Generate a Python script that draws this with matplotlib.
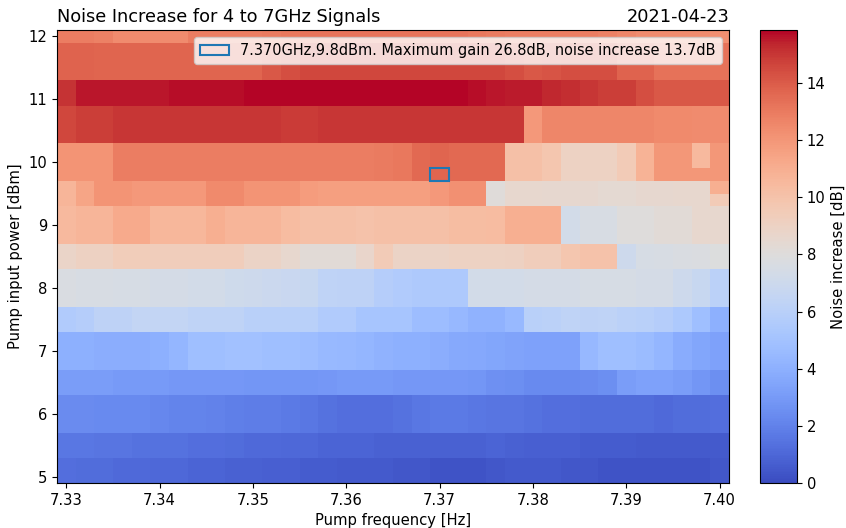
import numpy as np
import matplotlib
matplotlib.use("Agg")
import matplotlib.pyplot as plt
from matplotlib.patches import Rectangle

# ---------------- data ----------------
freq_ghz = [7.330, 7.332, 7.334, 7.336, 7.338, 7.340, 7.342, 7.344, 7.346, 7.348,
            7.350, 7.352, 7.354, 7.356, 7.358, 7.360, 7.362, 7.364, 7.366, 7.368,
            7.370, 7.372, 7.374, 7.376, 7.378, 7.380, 7.382, 7.384, 7.386, 7.388,
            7.390, 7.392, 7.394, 7.396, 7.398, 7.400]

power_dbm = [5.0, 5.2, 5.4, 5.6, 5.8, 6.0, 6.2, 6.4, 6.6, 6.8, 7.0, 7.2,
             7.4, 7.6, 7.8, 8.0, 8.2, 8.4, 8.6, 8.8, 9.0, 9.2, 9.4, 9.6,
             9.8, 10.0, 10.2, 10.4, 10.6, 10.8, 11.0, 11.2, 11.4, 11.6, 11.8, 12.0]

# which measured band each power row belongs to
row_band = [0, 0, 1, 1, 2, 2, 2, 3, 3, 4, 4, 4, 5, 5, 6, 6, 6, 7, 7,
            8, 8, 8, 9, 9, 10, 10, 10, 11, 11, 11, 12, 12, 13, 13, 13, 14]

band_values = [
    # 0: 5.0-5.2
    [1.3, 1.2, 1.2, 1.1, 1.1, 1.0, 1.0, 0.9, 0.9, 0.8, 0.8, 0.7, 0.7, 0.6, 0.6, 0.5, 0.5, 0.5,
     0.4, 0.4, 0.3, 0.3, 0.3, 0.4, 0.5, 0.5, 0.5, 0.4, 0.4, 0.3, 0.3, 0.3, 0.3, 0.3, 0.3, 0.4],
    # 1: 5.4-5.6
    [1.6, 1.6, 1.5, 1.5, 1.4, 1.4, 1.4, 1.3, 1.3, 1.2, 1.1, 1.1, 1.0, 1.0, 0.9, 0.9, 0.9, 0.8,
     0.8, 0.8, 0.8, 0.8, 0.8, 0.9, 0.8, 0.7, 0.7, 0.7, 0.6, 0.6, 0.6, 0.5, 0.5, 0.5, 0.5, 0.5],
    # 2: 5.8-6.2
    [2.4, 2.4, 2.3, 2.3, 2.3, 2.2, 2.1, 2.1, 2.0, 1.9, 1.8, 1.8, 1.7, 1.6, 1.4, 1.3, 1.3, 1.3,
     1.4, 1.6, 1.7, 1.7, 1.6, 1.5, 1.5, 1.4, 1.3, 1.3, 1.2, 1.2, 1.2, 1.2, 1.1, 1.2, 1.2, 1.3],
    # 3: 6.4-6.6
    [3.1, 3.1, 3.1, 3.0, 3.0, 3.0, 2.9, 2.9, 2.9, 2.9, 2.8, 2.8, 2.8, 2.8, 2.9, 3.0, 3.0, 3.0,
     2.9, 2.9, 2.9, 2.9, 2.8, 2.6, 2.5, 2.3, 2.3, 2.3, 2.4, 2.5, 3.1, 3.3, 3.3, 3.1, 2.8, 2.5],
    # 4: 6.8-7.2
    [4.0, 4.0, 3.9, 3.9, 3.9, 4.0, 4.3, 4.8, 4.8, 4.9, 4.9, 4.8, 4.8, 4.7, 4.5, 4.4, 4.3, 4.1,
     4.0, 4.0, 3.9, 3.7, 3.6, 3.5, 3.4, 3.3, 3.3, 3.3, 4.4, 4.8, 4.8, 4.6, 4.3, 3.8, 3.5, 3.3],
    # 5: 7.4-7.6
    [5.6, 5.8, 6.2, 6.2, 6.5, 6.5, 6.5, 6.3, 6.3, 6.3, 6.0, 6.0, 6.0, 6.0, 5.6, 5.6, 5.2, 5.2,
     5.2, 4.7, 4.7, 4.4, 4.1, 4.1, 4.5, 6.0, 6.1, 6.3, 6.2, 6.3, 6.1, 6.0, 5.8, 5.4, 4.8, 4.0],
    # 6: 7.8-8.2
    [7.7, 7.6, 7.6, 7.5, 7.5, 7.4, 7.4, 7.3, 7.3, 7.1, 7.0, 6.9, 6.8, 6.7, 6.3, 6.2, 6.2, 5.8,
     5.6, 5.5, 5.5, 5.5, 7.3, 7.3, 7.3, 7.4, 7.4, 7.4, 7.5, 7.5, 7.5, 7.4, 7.4, 7.0, 6.7, 6.1],
    # 7: 8.4-8.6
    [8.8, 9.1, 9.1, 9.4, 9.4, 9.3, 9.3, 9.3, 9.3, 9.3, 8.9, 8.9, 8.6, 8.2, 8.2, 8.2, 8.7, 9.5,
     8.9, 8.9, 8.9, 9.0, 9.0, 9.0, 9.1, 9.3, 9.3, 9.8, 10.0, 10.0, 7.0, 7.5, 7.6, 7.7, 7.8, 7.9],
    # 8: 8.8-9.2
    [10.5, 10.7, 10.7, 11.2, 11.2, 10.6, 10.6, 10.6, 11.0, 10.7, 10.7, 10.7, 10.4, 10.1, 10.1,
     10.1, 10.0, 10.1, 10.1, 10.1, 10.1, 10.3, 10.3, 10.4, 11.0, 11.0, 11.0, 7.3, 7.6, 7.6,
     8.0, 8.0, 8.2, 8.2, 8.6, 8.6],
    # 9: 9.4-9.6
    [10.7, 11.4, 12.1, 12.1, 11.9, 11.9, 11.9, 11.9, 12.5, 12.5, 12.1, 12.1, 12.1, 11.8, 11.7,
     11.7, 11.7, 11.7, 11.7, 11.7, 11.9, 12.2, 12.2, 8.1, 8.6, 8.6, 8.5, 8.5, 8.5, 8.4, 8.4,
     8.5, 8.5, 8.6, 8.6, 11.0],
    # 10: 9.8-10.2
    [12.1, 12.1, 12.1, 12.9, 12.9, 12.9, 12.9, 12.9, 12.9, 12.9, 12.9, 12.9, 12.9, 12.9, 12.9,
     12.9, 12.9, 13.0, 13.1, 13.6, 13.7, 13.6, 13.6, 13.6, 10.1, 10.1, 9.8, 9.0, 9.0, 9.0,
     9.5, 10.8, 12.0, 12.0, 10.5, 12.0],
    # 11: 10.4-10.8
    [14.6, 14.8, 14.8, 15.0, 15.0, 15.0, 15.0, 15.0, 15.0, 15.0, 15.0, 15.0, 14.9, 14.9, 15.0,
     15.0, 15.0, 15.0, 15.0, 15.0, 15.0, 15.0, 15.0, 15.0, 15.0, 11.9, 12.6, 12.6, 12.6, 12.6,
     12.6, 12.6, 12.5, 12.5, 12.4, 12.4],
    # 12: 11.0-11.2
    [15.1, 15.6, 15.6, 15.6, 15.6, 15.6, 15.7, 15.7, 15.7, 15.7, 15.8, 15.8, 15.8, 15.8, 15.8,
     15.8, 15.8, 15.8, 15.8, 15.8, 15.8, 15.8, 15.7, 15.6, 15.5, 15.5, 15.3, 15.2, 15.0, 14.8,
     14.8, 14.4, 14.1, 14.1, 14.1, 14.1],
    # 13: 11.4-11.8
    [13.8, 13.8, 13.7, 13.7, 13.7, 13.7, 13.7, 13.7, 13.7, 13.7, 13.7, 14.1, 14.4, 14.6, 14.6,
     14.6, 14.6, 14.6, 14.6, 14.6, 14.6, 14.6, 14.6, 14.6, 14.4, 14.1, 14.2, 14.4, 14.4, 14.4,
     13.8, 13.8, 13.3, 13.3, 13.3, 13.3],
    # 14: 12.0
    [12.9, 12.9, 12.8, 12.4, 12.4, 12.4, 12.4, 12.9, 12.9, 12.9, 12.9, 13.0, 13.1, 13.2, 13.2,
     13.2, 13.2, 13.2, 13.2, 13.2, 13.2, 13.2, 13.1, 13.0, 12.9, 12.9, 12.9, 12.9, 12.9, 12.8,
     12.6, 12.4, 12.4, 12.4, 12.4, 12.3],
]

# single cells that differ from their band: (power dBm, frequency GHz, value dB)
cell_overrides = [(9.4, 7.400, 9.5), (9.8, 7.398, 12.0)]

marked_freq = 7.370
marked_power = 9.8
legend_text = "7.370GHz,9.8dBm. Maximum gain 26.8dB, noise increase 13.7dB"
colorbar_ticks = [0, 2, 4, 6, 8, 10, 12, 14]
x_ticks = [7.33, 7.34, 7.35, 7.36, 7.37, 7.38, 7.39, 7.40]
y_ticks = [5, 6, 7, 8, 9, 10, 11, 12]

# ---------------- build grid ----------------
bands = np.array(band_values)
Z = bands[np.array(row_band)].astype(float)
fx = np.array(freq_ghz)
py = np.array(power_dbm)
for p, f, v in cell_overrides:
    Z[np.argmin(np.abs(py - p)), np.argmin(np.abs(fx - f))] = v

# ---------------- figure ----------------
FS = 10.6
TFS = 12.8
W, H = 846, 528
fig = plt.figure(figsize=(W / 100, H / 100), dpi=100)
ax = fig.add_axes([57 / W, 45 / H, 672 / W, 453 / H])
cax = fig.add_axes([760 / W, 45 / H, 37 / W, 453 / H])

mesh = ax.pcolormesh(fx, py, Z, cmap="coolwarm", vmin=0, vmax=15.85, shading="nearest")

dx = fx[1] - fx[0]
dy = py[1] - py[0]
rect = Rectangle((marked_freq - dx / 2, marked_power - dy / 2), dx, dy,
                 fill=False, edgecolor="tab:blue", linewidth=1.5, label=legend_text)
ax.add_patch(rect)
ax.legend(loc="upper right", fontsize=10.45)

ax.set_xticks(x_ticks)
ax.set_xticklabels([f"{t:.2f}" for t in x_ticks])
ax.set_yticks(y_ticks)
ax.tick_params(labelsize=FS)
ax.set_xlabel("Pump frequency [Hz]", fontsize=FS)
ax.set_ylabel("Pump input power [dBm]", fontsize=FS)
ax.set_title("Noise Increase for 4 to 7GHz Signals", loc="left", fontsize=TFS)
ax.set_title("2021-04-23", loc="right", fontsize=TFS)

cb = fig.colorbar(mesh, cax=cax)
cb.set_ticks(colorbar_ticks)
cb.ax.tick_params(labelsize=FS)
cb.set_label("Noise increase [dB]", fontsize=FS)

fig.savefig("out.png", dpi=100)
